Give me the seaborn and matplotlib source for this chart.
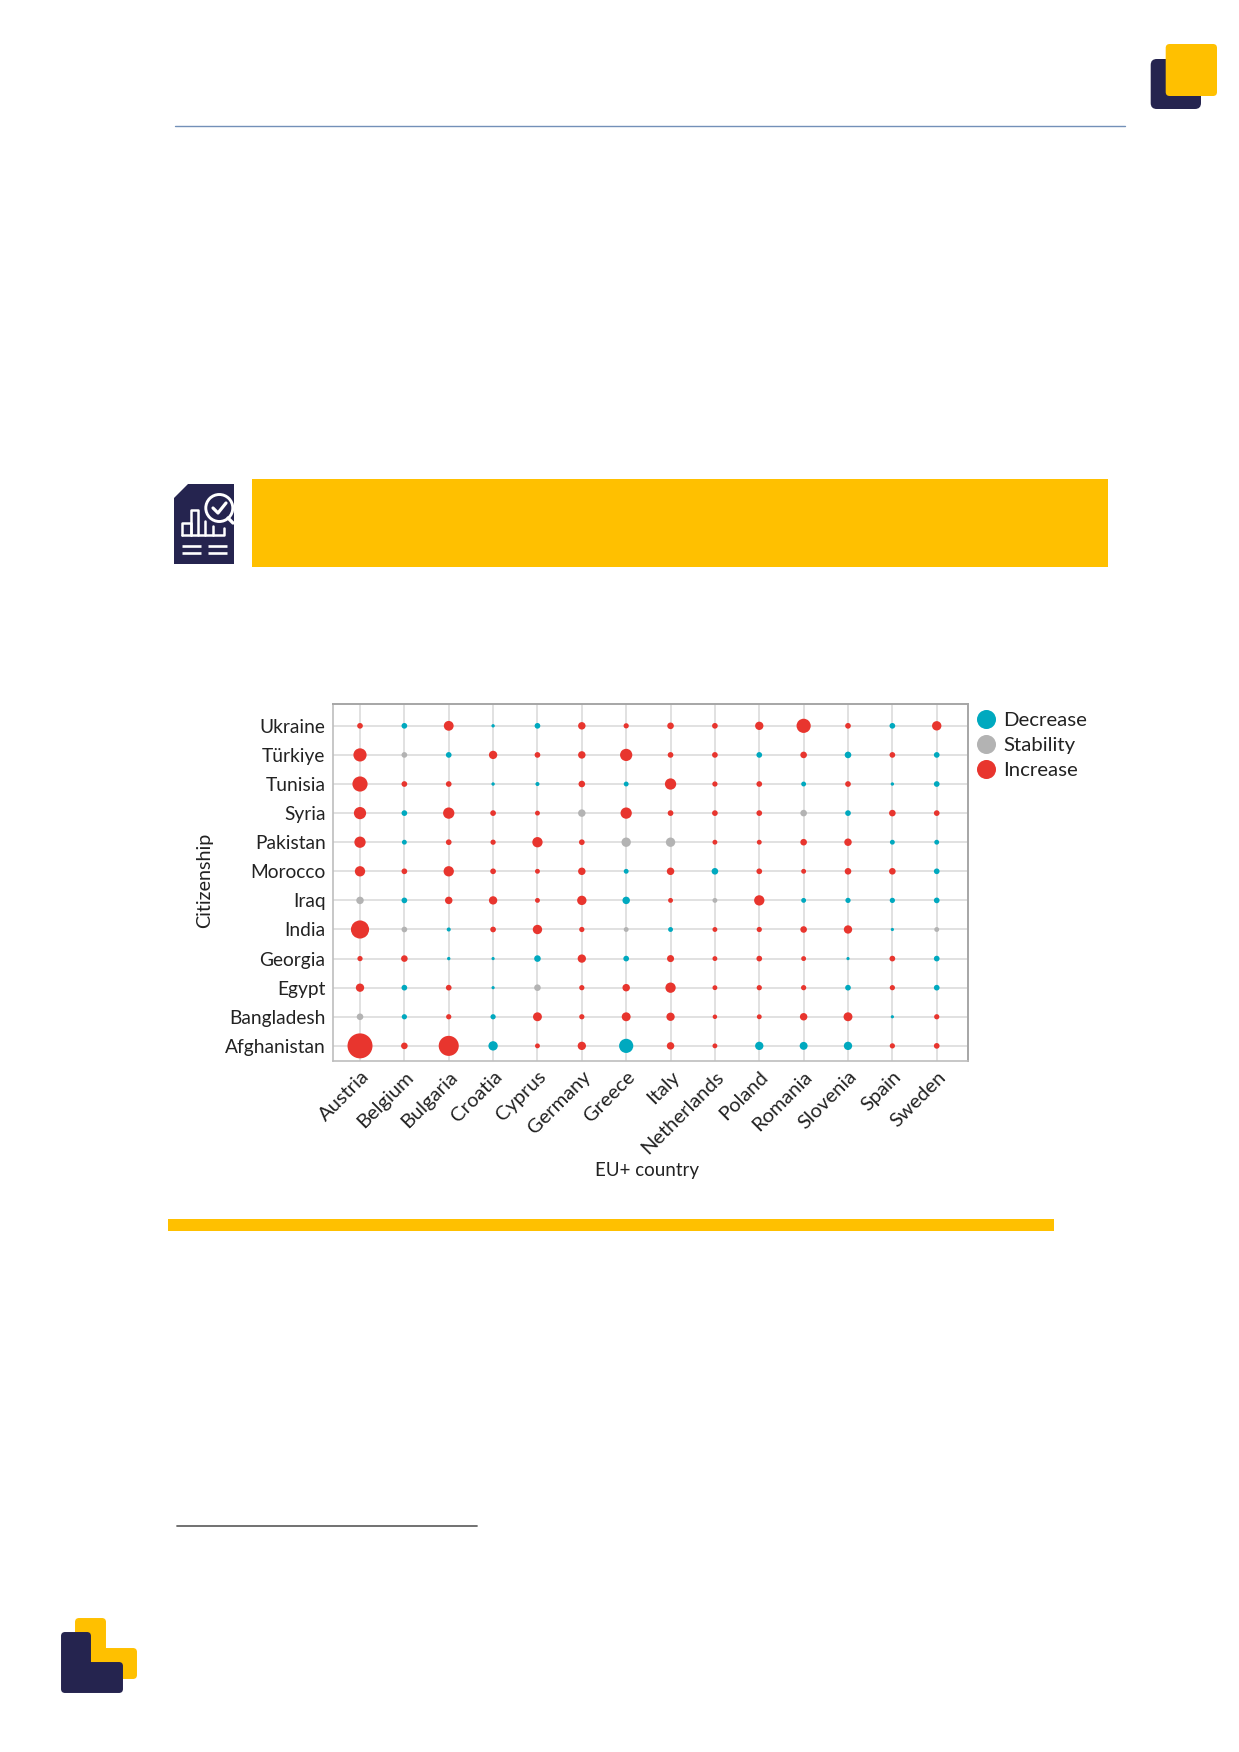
import pandas as pd
import seaborn as sns
import matplotlib.pyplot as plt
from matplotlib.lines import Line2D
from matplotlib.patches import Circle, FancyBboxPatch, Polygon, Rectangle

# EU+ countries on the x axis
countries = ['Austria', 'Belgium', 'Bulgaria', 'Croatia', 'Cyprus', 'Germany', 'Greece',
             'Italy', 'Netherlands', 'Poland', 'Romania', 'Slovenia', 'Spain', 'Sweden']

# Citizenships from the bottom row to the top row
citizenships = ['Afghanistan', 'Bangladesh', 'Egypt', 'Georgia', 'India', 'Iraq',
                'Morocco', 'Pakistan', 'Syria', 'Tunisia', 'Türkiye', 'Ukraine']

# Relative magnitude (largest = 100)
afghanistan = [100, 5.8, 64, 13, 2.6, 10, 31.4, 7.8, 2.6, 10, 9, 10, 3.2, 4]
bangladesh = [5.8, 3.2, 3.2, 3.2, 11.6, 3.2, 11.6, 10, 2, 2.6, 7.8, 11.6, 0.4, 3.2]
egypt = [10, 4, 4, 0.4, 5.8, 3.2, 7.8, 16, 2.6, 3.2, 3.2, 4, 3.2, 4]
georgia = [3.2, 5.8, 0.6, 0.4, 5.8, 10, 4, 6.8, 2.6, 4, 2.6, 0.4, 4, 4]
india = [52, 4, 1.4, 4, 13, 3.2, 2.6, 2.6, 2.6, 3.2, 5.8, 10, 0.4, 2.6]
iraq = [7.8, 4, 7.8, 10, 2.6, 13, 7.8, 2.6, 2.6, 16, 2.6, 3.2, 3.2, 4]
morocco = [16, 4, 16, 4, 2.6, 7.8, 2.6, 7.8, 5.8, 4, 2.6, 5.8, 5.8, 4]
pakistan = [19.4, 2.6, 4, 3.2, 16, 4, 13, 13, 2.6, 2.6, 5.8, 7.8, 2.6, 2.6]
syria = [23, 4, 19.4, 4, 2.6, 7.8, 19.4, 4, 4, 4, 5.8, 4, 5.8, 4]
tunisia = [36, 4, 4, 0.6, 1.4, 5.8, 2.6, 19.4, 3.2, 4, 2.6, 4, 0.6, 4]
turkiye = [27, 4, 4, 10, 4, 7.8, 23, 4, 4, 4, 5.8, 5.8, 4, 4]
ukraine = [4, 4, 14.4, 0.6, 4, 7.8, 3.2, 5.8, 4, 10, 31.4, 4, 4, 13]

# Direction of change per cell: D = decrease, S = stability, I = increase
trend_afghanistan = list('IIIDIIDIIDDDII')
trend_bangladesh = list('SDIDIIIIIIIIDI')
trend_egypt = list('IDIDSIIIIIIDID')
trend_georgia = list('IIDDDIDIIIIDID')
trend_india = list('ISDIIISDIIIIDS')
trend_iraq = list('SDIIIIDISIDDDD')
trend_morocco = list('IIIIIIDIDIIIID')
trend_pakistan = list('IDIIIISSIIIIDD')
trend_syria = list('IDIIISIIIISDII')
trend_tunisia = list('IIIDDIDIIIDIDD')
trend_turkiye = list('ISDIIIIIIDIDID')
trend_ukraine = list('IDIDDIIIIIIIDI')

trend_names = {'D': 'Decrease', 'S': 'Stability', 'I': 'Increase'}
palette = {'Decrease': '#00A9BF', 'Stability': '#B3B3B3', 'Increase': '#E8352E'}

values = [afghanistan, bangladesh, egypt, georgia, india, iraq, morocco,
          pakistan, syria, tunisia, turkiye, ukraine]
trends = [trend_afghanistan, trend_bangladesh, trend_egypt, trend_georgia, trend_india,
          trend_iraq, trend_morocco, trend_pakistan, trend_syria, trend_tunisia,
          trend_turkiye, trend_ukraine]

rows = []
for name, row_values, row_trends in zip(citizenships, values, trends):
    for country, value, trend in zip(countries, row_values, row_trends):
        rows.append({'country': country, 'citizenship': name, 'value': value,
                     'trend': trend_names[trend]})
df = pd.DataFrame(rows)

sns.set_theme(style='white')
plt.rcParams['font.family'] = ['Lato', 'DejaVu Sans']

W, H = 1239, 1752
NAVY = '#25244F'
YELLOW = '#FFC000'
fig = plt.figure(figsize=(W / 100, H / 100), dpi=100, facecolor='white')

# Page furniture, drawn in pixel coordinates
page = fig.add_axes([0, 0, 1, 1])
page.set_xlim(0, W)
page.set_ylim(H, 0)
page.axis('off')


def rounded(x0, y0, x1, y1, color, r=5, z=1):
    page.add_patch(FancyBboxPatch((x0 + r, y0 + r), x1 - x0 - 2 * r, y1 - y0 - 2 * r,
                                  boxstyle=f'round,pad={r},rounding_size={r}',
                                  fc=color, ec='none', zorder=z))


def l_shape(pts, color, z=1):
    page.add_patch(Polygon(pts, closed=True, fc=color, ec=color, lw=5, joinstyle='round', zorder=z))


page.plot([174.5, 1125], [126, 126], color='#7390B8', lw=1.0)
page.plot([177, 477.3], [1525.7, 1525.7], color='#666666', lw=1.3)
page.add_patch(Rectangle((251.7, 478.5), 1107.7 - 251.7, 88.2, fc=YELLOW, ec='none'))
page.add_patch(Rectangle((168, 1219), 1053.7 - 168, 11.7, fc=YELLOW, ec='none'))

# logo, top right
rounded(1150.7, 59, 1201, 109, NAVY, r=6)
rounded(1165.7, 44, 1217, 96, YELLOW, r=4, z=2)

# logo, bottom left
l_shape([(78, 1620.5), (102, 1620.5), (102, 1650.5), (132.5, 1650.5), (132.5, 1674.5), (78, 1674.5)], YELLOW)
l_shape([(64, 1635), (87, 1635), (87, 1665), (118.5, 1665), (118.5, 1688.5), (64, 1688.5)], NAVY, z=2)

# report icon
page.add_patch(Polygon([(174, 498), (188, 484), (234, 484), (234, 564), (174, 564)],
                       fc=NAVY, ec='none'))
for x0, x1 in [(182, 200.5), (208, 226.5)]:
    for y in (545.7, 552.5):
        page.plot([x0, x1], [y, y], color='white', lw=1.9, solid_capstyle='butt')
page.plot([182, 182, 191, 191], [535, 523, 523, 535], color='white', lw=1.8)
page.plot([191, 191, 198, 198], [535, 510, 510, 535], color='white', lw=1.8)
page.plot([205, 205], [535, 521], color='white', lw=1.8)
page.plot([213, 213], [535, 526], color='white', lw=1.8)
page.plot([182, 224, 224], [535, 535, 528], color='white', lw=1.8)
page.plot([228, 233], [518, 523], color='white', lw=2.4)
page.add_patch(Circle((219.3, 508), 13.5, fc=NAVY, ec='white', lw=2.1))
page.plot([213, 218, 226], [508, 513, 503], color='white', lw=2.3)

# Bubble chart
ax = fig.add_axes([332.5 / W, 1 - 1061 / H, (968 - 332.5) / W, (1061 - 704) / H])
ax.grid(True, color='#D9D9D9', lw=1.1)
ax.set_axisbelow(True)
sns.scatterplot(data=df, x='country', y='citizenship', hue='trend', size='value',
                palette=palette, sizes=(4, 324), size_norm=(0, 100), linewidth=0,
                legend=False, ax=ax, zorder=3)
ax.set_xlim(-0.62, 13.705)
ax.set_ylim(-0.52, 11.75)
ax.set_xlabel('EU+ country', fontsize=13.5, color='#222222', labelpad=3.8, x=0.4955)
ax.set_ylabel('Citizenship', fontsize=14.2, color='#222222', labelpad=8.2, y=0.506)
ax.tick_params(axis='y', length=0, labelsize=13.8, labelcolor='#222222', pad=5)
ax.tick_params(axis='x', length=0, labelsize=14.5, labelcolor='#222222', pad=5)
plt.setp(ax.get_xticklabels(), rotation=45, ha='right', rotation_mode='anchor')
for side in ['top', 'right']:
    ax.spines[side].set_color('#A6A6A6')
    ax.spines[side].set_linewidth(1.4)
for side in ['left', 'bottom']:
    ax.spines[side].set_color('#BDBDBD')
    ax.spines[side].set_linewidth(1.2)

handles = [Line2D([], [], marker='o', ls='', ms=13.7, mew=0, color=palette[k], label=k)
           for k in palette]
ax.legend(handles=handles, loc='upper left', bbox_to_anchor=(1.0, 1.002), frameon=False,
          fontsize=14.7, labelcolor='#222222', handlelength=1, handletextpad=0.33,
          labelspacing=0.385, borderaxespad=0)

fig.savefig('out.png', dpi=100)
